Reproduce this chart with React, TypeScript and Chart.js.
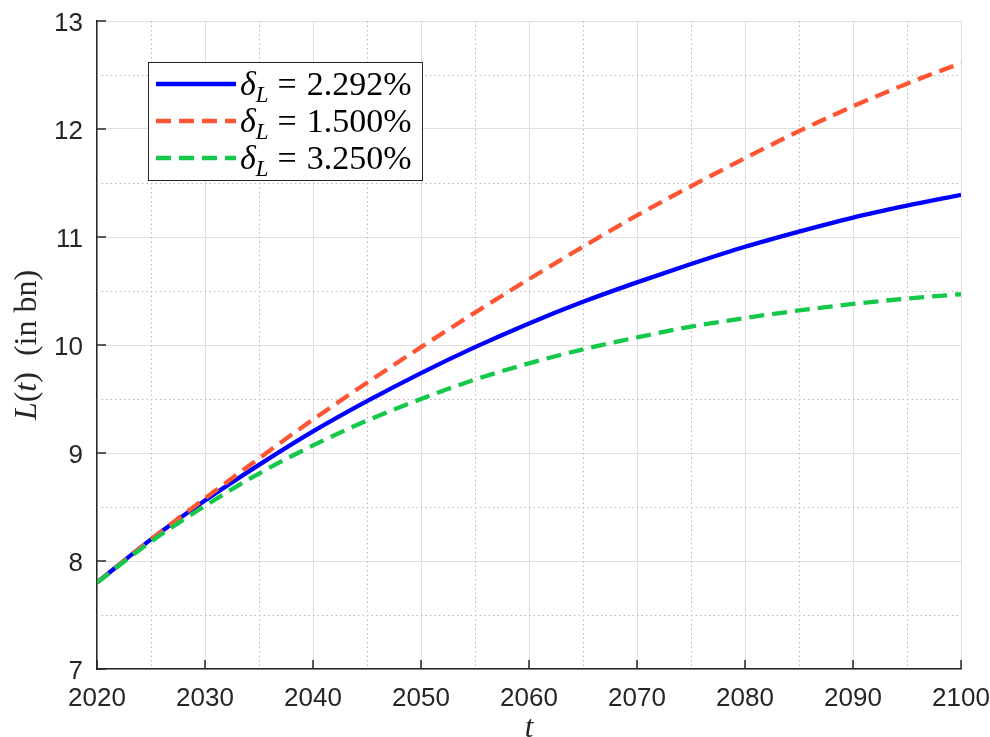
import React, { useEffect, useRef } from "react";
import { Chart, registerables } from "chart.js";

Chart.register(...registerables);

const years = [2020, 2025, 2030, 2035, 2040, 2045, 2050, 2055, 2060, 2065, 2070, 2075, 2080, 2085, 2090, 2095, 2100];
const seriesBase = [7.8, 8.2, 8.56, 8.89, 9.2, 9.48, 9.74, 9.98, 10.2, 10.4, 10.58, 10.75, 10.91, 11.05, 11.18, 11.29, 11.39];
const seriesLow = [7.8, 8.2, 8.58, 8.95, 9.31, 9.65, 9.98, 10.3, 10.61, 10.91, 11.2, 11.47, 11.73, 11.98, 12.21, 12.42, 12.61];
const seriesHigh = [7.8, 8.18, 8.51, 8.81, 9.07, 9.3, 9.5, 9.68, 9.83, 9.96, 10.07, 10.17, 10.25, 10.32, 10.38, 10.43, 10.47];
const legendValues = ["2.292%", "1.500%", "3.250%"];
const xMin = 2020, xMax = 2100, yMin = 7, yMax = 13;

const BLUE = "#0000ff";
const RED = "#ff5533";
const GREEN = "#14c84a";
const AXIS = "#262626";
const SERIF = '"Liberation Serif", "DejaVu Serif", serif';
const SANS = '"Liberation Sans", Arial, Helvetica, sans-serif';
const LW = 4.3;
const DASH = [15, 8];

const toPts = (vals: number[]) => years.map((x, i) => ({ x, y: vals[i] }));

const decorPlugin = {
  id: "decor",
  beforeDatasetsDraw(chart: any) {
    const { ctx, chartArea: a, scales } = chart;
    const xs = scales.x, ys = scales.y;
    ctx.save();
    // minor dotted grid
    ctx.strokeStyle = "#b8b8b8";
    ctx.lineWidth = 1;
    ctx.setLineDash([1.5, 3]);
    for (let v = xMin + 5; v < xMax; v += 10) {
      const px = Math.round(xs.getPixelForValue(v)) + 0.5;
      ctx.beginPath(); ctx.moveTo(px, a.top); ctx.lineTo(px, a.bottom); ctx.stroke();
    }
    for (let v = yMin + 0.5; v < yMax; v += 1) {
      const py = Math.round(ys.getPixelForValue(v)) + 0.5;
      ctx.beginPath(); ctx.moveTo(a.left, py); ctx.lineTo(a.right, py); ctx.stroke();
    }
    ctx.setLineDash([]);
    // inward ticks
    ctx.strokeStyle = AXIS;
    ctx.lineWidth = 1.5;
    for (const t of xs.ticks) {
      const px = xs.getPixelForValue(t.value);
      ctx.beginPath(); ctx.moveTo(px, a.bottom); ctx.lineTo(px, a.bottom - 9); ctx.stroke();
    }
    for (const t of ys.ticks) {
      const py = ys.getPixelForValue(t.value);
      ctx.beginPath(); ctx.moveTo(a.left, py); ctx.lineTo(a.left + 9, py); ctx.stroke();
    }
    ctx.restore();
  },
  afterDraw(chart: any) {
    const { ctx, chartArea: a, scales } = chart;
    const xs = scales.x, ys = scales.y;
    ctx.save();
    // tick labels
    ctx.fillStyle = AXIS;
    ctx.font = `26px ${SANS}`;
    ctx.textBaseline = "alphabetic";
    ctx.textAlign = "center";
    for (const t of xs.ticks) {
      ctx.fillText(String(t.value), xs.getPixelForValue(t.value), a.bottom + 37);
    }
    ctx.textAlign = "right";
    for (const t of ys.ticks) {
      ctx.fillText(String(t.value), a.left - 14, ys.getPixelForValue(t.value) + 9.5);
    }

    // axis titles
    ctx.textBaseline = "middle";
    ctx.textAlign = "center";
    ctx.font = `italic 31px ${SERIF}`;
    ctx.fillText("t", (a.left + a.right) / 2, 729);

    ctx.translate(28, (a.top + a.bottom) / 2);
    ctx.rotate(-Math.PI / 2);
    const parts: [string, string][] = [
      ["L", "italic"], ["(", ""], ["t", "italic"], [")", ""], ["  (in bn)", ""],
    ];
    let total = 0;
    for (const [s, st] of parts) { ctx.font = `${st} 32px ${SERIF}`; total += ctx.measureText(s).width; }
    let x = -total / 2;
    ctx.textAlign = "left";
    for (const [s, st] of parts) {
      ctx.font = `${st} 32px ${SERIF}`;
      ctx.fillText(s, x, 0);
      x += ctx.measureText(s).width;
    }
    ctx.restore();

    // legend
    ctx.save();
    const bx = 148.5, by = 62.5, bw = 274, bh = 118;
    ctx.fillStyle = "#ffffff";
    ctx.fillRect(bx, by, bw, bh);
    ctx.strokeStyle = AXIS;
    ctx.lineWidth = 1;
    ctx.strokeRect(bx, by, bw, bh);
    const rows = [
      { c: BLUE, dash: [] as number[] },
      { c: RED, dash: DASH },
      { c: GREEN, dash: DASH },
    ];
    const rowY = [84, 121, 158];
    rows.forEach((r, i) => {
      const y = rowY[i];
      ctx.strokeStyle = r.c;
      ctx.lineWidth = LW;
      ctx.setLineDash(r.dash);
      ctx.beginPath(); ctx.moveTo(156, y); ctx.lineTo(236, y); ctx.stroke();
      ctx.setLineDash([]);
      ctx.fillStyle = "#000";
      ctx.textBaseline = "alphabetic";
      ctx.textAlign = "left";
      let tx = 240;
      const base = y + 11;
      ctx.font = `italic 34px ${SERIF}`;
      ctx.fillText("δ", tx, base);
      tx += ctx.measureText("δ").width;
      ctx.font = `italic 23px ${SERIF}`;
      ctx.fillText("L", tx, base + 7);
      tx += ctx.measureText("L").width + 9;
      ctx.font = `34px ${SERIF}`;
      ctx.fillText("=", tx, base);
      tx += ctx.measureText("=").width + 10;
      ctx.fillText(legendValues[i], tx, base);
    });
    ctx.restore();
  },
};

export default function App() {
  const ref = useRef<HTMLCanvasElement>(null);
  useEffect(() => {
    if (!ref.current) return;
    const chart = new Chart(ref.current, {
      type: "line",
      data: {
        datasets: [
          { label: "base", data: toPts(seriesBase), borderColor: BLUE, borderWidth: LW, order: 3 },
          { label: "low", data: toPts(seriesLow), borderColor: RED, borderWidth: LW, borderDash: DASH, order: 2 },
          { label: "high", data: toPts(seriesHigh), borderColor: GREEN, borderWidth: LW, borderDash: DASH, order: 1 },
        ] as any,
      },
      options: {
        animation: false,
        responsive: false,
        maintainAspectRatio: false,
        devicePixelRatio: 1,
        layout: { padding: { top: 21, right: 29, left: 0, bottom: 0 } },
        elements: { point: { radius: 0 }, line: { cubicInterpolationMode: "monotone", fill: false } },
        plugins: { legend: { display: false }, tooltip: { enabled: false }, title: { display: false } },
        scales: {
          x: {
            type: "linear",
            min: xMin,
            max: xMax,
            afterFit: (s: any) => { s.height = 68; },
            ticks: { stepSize: 10, display: false },
            grid: { color: "#dfdfdf", lineWidth: 1, drawTicks: false },
            border: { display: true, color: AXIS, width: 1.5 },
          },
          y: {
            type: "linear",
            min: yMin,
            max: yMax,
            afterFit: (s: any) => { s.width = 97; },
            ticks: { stepSize: 1, display: false },
            grid: { color: "#dfdfdf", lineWidth: 1, drawTicks: false },
            border: { display: true, color: AXIS, width: 1.5 },
          },
        },
      },
      plugins: [decorPlugin],
    });
    return () => chart.destroy();
  }, []);
  return (
    <div style={{ position: "fixed", left: 0, top: 0, width: 990, height: 737, background: "#fff" }}>
      <canvas ref={ref} width={990} height={737} style={{ width: 990, height: 737, display: "block" }} />
    </div>
  );
}
